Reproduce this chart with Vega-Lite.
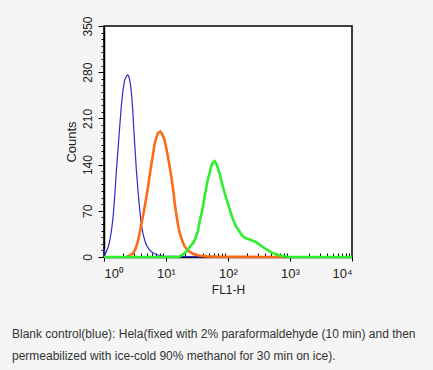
{
  "$schema": "https://vega.github.io/schema/vega-lite/v6.json",
  "width": 248,
  "height": 231,
  "autosize": {"type": "none"},
  "padding": {"left": 104, "top": 26, "right": 81, "bottom": 113},
  "background": "#f4f5f4",
  "title": {
    "text": ["Blank control(blue): Hela(fixed with 2% paraformaldehyde (10 min) and then", "permeabilized with ice-cold 90% methanol for 30 min on ice)."],
    "orient": "bottom",
    "anchor": "start",
    "frame": "group",
    "dx": -92,
    "offset": 34,
    "fontSize": 12,
    "fontWeight": "normal",
    "color": "#333333",
    "lineHeight": 22,
    "font": "Liberation Sans"
  },
  "config": {
    "font": "Liberation Sans",
    "view": {"fill": "white", "stroke": "black", "strokeWidth": 1.5},
    "axis": {"domainColor": "black", "tickColor": "black", "labelColor": "#222222", "titleColor": "#222222", "domainWidth": 1.5, "tickWidth": 1, "grid": false, "titleFontWeight": "normal"}
  },
  "datasets": {
    "hist": [
      {"series": "blue", "fl": 1.0, "count": 12},
      {"series": "blue", "fl": 1.04, "count": 4},
      {"series": "blue", "fl": 1.09, "count": 8},
      {"series": "blue", "fl": 1.17, "count": 15},
      {"series": "blue", "fl": 1.24, "count": 25},
      {"series": "blue", "fl": 1.32, "count": 40},
      {"series": "blue", "fl": 1.40, "count": 60},
      {"series": "blue", "fl": 1.49, "count": 92},
      {"series": "blue", "fl": 1.585, "count": 131},
      {"series": "blue", "fl": 1.69, "count": 165},
      {"series": "blue", "fl": 1.79, "count": 197},
      {"series": "blue", "fl": 1.9, "count": 228},
      {"series": "blue", "fl": 2.02, "count": 252},
      {"series": "blue", "fl": 2.15, "count": 268},
      {"series": "blue", "fl": 2.3, "count": 274},
      {"series": "blue", "fl": 2.42, "count": 276},
      {"series": "blue", "fl": 2.53, "count": 273},
      {"series": "blue", "fl": 2.65, "count": 264},
      {"series": "blue", "fl": 2.77, "count": 248},
      {"series": "blue", "fl": 2.9, "count": 225},
      {"series": "blue", "fl": 3.01, "count": 197},
      {"series": "blue", "fl": 3.16, "count": 165},
      {"series": "blue", "fl": 3.33, "count": 131},
      {"series": "blue", "fl": 3.55, "count": 98},
      {"series": "blue", "fl": 3.77, "count": 71},
      {"series": "blue", "fl": 4.0, "count": 50},
      {"series": "blue", "fl": 4.26, "count": 35},
      {"series": "blue", "fl": 4.55, "count": 25},
      {"series": "blue", "fl": 4.83, "count": 18},
      {"series": "blue", "fl": 5.3, "count": 12},
      {"series": "blue", "fl": 5.82, "count": 8},
      {"series": "blue", "fl": 6.5, "count": 5},
      {"series": "blue", "fl": 7.43, "count": 3},
      {"series": "blue", "fl": 9, "count": 1.5},
      {"series": "blue", "fl": 11, "count": 1},
      {"series": "blue", "fl": 14, "count": 0.8},
      {"series": "blue", "fl": 20, "count": 0.6},
      {"series": "blue", "fl": 30, "count": 0.3},
      {"series": "blue", "fl": 40, "count": 0},
      {"series": "orange", "fl": 2.3, "count": 0},
      {"series": "orange", "fl": 2.6, "count": 2.5},
      {"series": "orange", "fl": 2.9, "count": 5},
      {"series": "orange", "fl": 3.13, "count": 10},
      {"series": "orange", "fl": 3.35, "count": 17},
      {"series": "orange", "fl": 3.54, "count": 25},
      {"series": "orange", "fl": 3.78, "count": 37},
      {"series": "orange", "fl": 4.01, "count": 50},
      {"series": "orange", "fl": 4.27, "count": 63},
      {"series": "orange", "fl": 4.53, "count": 76},
      {"series": "orange", "fl": 4.82, "count": 91},
      {"series": "orange", "fl": 5.13, "count": 106},
      {"series": "orange", "fl": 5.46, "count": 124},
      {"series": "orange", "fl": 5.82, "count": 141},
      {"series": "orange", "fl": 6.2, "count": 157},
      {"series": "orange", "fl": 6.57, "count": 172},
      {"series": "orange", "fl": 7.0, "count": 181},
      {"series": "orange", "fl": 7.43, "count": 188},
      {"series": "orange", "fl": 8.1, "count": 190},
      {"series": "orange", "fl": 8.7, "count": 186},
      {"series": "orange", "fl": 9.5, "count": 177},
      {"series": "orange", "fl": 10.2, "count": 163},
      {"series": "orange", "fl": 10.8, "count": 151},
      {"series": "orange", "fl": 11.5, "count": 136},
      {"series": "orange", "fl": 12.2, "count": 121},
      {"series": "orange", "fl": 13.0, "count": 103},
      {"series": "orange", "fl": 13.8, "count": 82},
      {"series": "orange", "fl": 14.7, "count": 64},
      {"series": "orange", "fl": 15.6, "count": 49},
      {"series": "orange", "fl": 16.6, "count": 37},
      {"series": "orange", "fl": 18.2, "count": 25},
      {"series": "orange", "fl": 20, "count": 16},
      {"series": "orange", "fl": 22, "count": 11},
      {"series": "orange", "fl": 24, "count": 8},
      {"series": "orange", "fl": 27, "count": 5},
      {"series": "orange", "fl": 31, "count": 3},
      {"series": "orange", "fl": 36, "count": 2},
      {"series": "orange", "fl": 45, "count": 1},
      {"series": "orange", "fl": 60, "count": 0.5},
      {"series": "orange", "fl": 100, "count": 0.3},
      {"series": "orange", "fl": 200, "count": 0.2},
      {"series": "orange", "fl": 400, "count": 0.1},
      {"series": "orange", "fl": 800, "count": 0},
      {"series": "green", "fl": 1, "count": 0},
      {"series": "green", "fl": 16, "count": 0},
      {"series": "green", "fl": 18.8, "count": 4},
      {"series": "green", "fl": 21.3, "count": 8},
      {"series": "green", "fl": 24, "count": 15},
      {"series": "green", "fl": 27.3, "count": 21},
      {"series": "green", "fl": 29.5, "count": 27},
      {"series": "green", "fl": 32.8, "count": 40},
      {"series": "green", "fl": 35, "count": 55},
      {"series": "green", "fl": 37.5, "count": 66},
      {"series": "green", "fl": 39.5, "count": 77},
      {"series": "green", "fl": 42, "count": 92},
      {"series": "green", "fl": 44.8, "count": 106},
      {"series": "green", "fl": 47.5, "count": 118},
      {"series": "green", "fl": 50.6, "count": 127},
      {"series": "green", "fl": 53, "count": 136},
      {"series": "green", "fl": 56, "count": 142},
      {"series": "green", "fl": 61, "count": 145},
      {"series": "green", "fl": 65, "count": 141},
      {"series": "green", "fl": 69, "count": 134},
      {"series": "green", "fl": 73.5, "count": 126},
      {"series": "green", "fl": 78, "count": 116},
      {"series": "green", "fl": 83, "count": 106},
      {"series": "green", "fl": 90, "count": 94},
      {"series": "green", "fl": 100, "count": 81},
      {"series": "green", "fl": 110, "count": 68},
      {"series": "green", "fl": 120, "count": 57},
      {"series": "green", "fl": 135, "count": 46},
      {"series": "green", "fl": 155, "count": 38},
      {"series": "green", "fl": 175, "count": 31},
      {"series": "green", "fl": 200, "count": 28},
      {"series": "green", "fl": 230, "count": 26},
      {"series": "green", "fl": 260, "count": 24},
      {"series": "green", "fl": 290, "count": 22},
      {"series": "green", "fl": 330, "count": 18},
      {"series": "green", "fl": 380, "count": 14},
      {"series": "green", "fl": 430, "count": 11},
      {"series": "green", "fl": 500, "count": 7},
      {"series": "green", "fl": 600, "count": 4},
      {"series": "green", "fl": 700, "count": 2},
      {"series": "green", "fl": 800, "count": 1},
      {"series": "green", "fl": 950, "count": 0},
      {"series": "green", "fl": 10000, "count": 0}
    ]
  },
  "data": {"name": "hist"},
  "encoding": {
    "x": {
      "field": "fl",
      "type": "quantitative",
      "scale": {"type": "log", "domain": [1, 10000], "nice": false},
      "axis": {
        "title": "FL1-H",
        "titleFontSize": 12,
        "titlePadding": 4,
        "labelFontSize": 13,
        "labelPadding": 6,
        "values": [1,2,3,4,5,6,7,8,9,10,20,30,40,50,60,70,80,90,100,200,300,400,500,600,700,800,900,1000,2000,3000,4000,5000,6000,7000,8000,9000,10000],
        "labelExpr": "datum.value == 1 ? '10⁰' : datum.value == 10 ? '10¹' : datum.value == 100 ? '10²' : datum.value == 1000 ? '10³' : datum.value == 10000 ? '10⁴' : ''",
        "tickSize": {"condition": {"test": "indexof([1,10,100,1000,10000], datum.value) >= 0", "value": 4}, "value": -4}
      }
    },
    "y": {
      "field": "count",
      "type": "quantitative",
      "scale": {"domain": [0, 350], "nice": false},
      "axis": {
        "title": "Counts",
        "titleFontSize": 13,
        "titlePadding": 3,
        "labelFontSize": 12,
        "labelAngle": -90,
        "labelAlign": "center",
        "labelBaseline": "bottom",
        "labelPadding": 4,
        "values": [0,10,20,30,40,50,60,70,80,90,100,110,120,130,140,150,160,170,180,190,200,210,220,230,240,250,260,270,280,290,300,310,320,330,340,350],
        "labelExpr": "datum.value % 70 === 0 ? datum.label : ''",
        "tickSize": {"condition": {"test": "datum.value % 70 === 0", "value": 6}, "value": 3}
      }
    }
  },
  "layer": [
    {"transform": [{"filter": "datum.series === 'blue'"}], "mark": {"type": "line", "color": "#2b2bd2", "strokeWidth": 1.2}},
    {"transform": [{"filter": "datum.series === 'orange'"}], "mark": {"type": "line", "color": "#ff6a16", "strokeWidth": 2.6}},
    {"transform": [{"filter": "datum.series === 'green'"}], "mark": {"type": "line", "color": "#2cf02c", "strokeWidth": 2.6}}
  ]
}
